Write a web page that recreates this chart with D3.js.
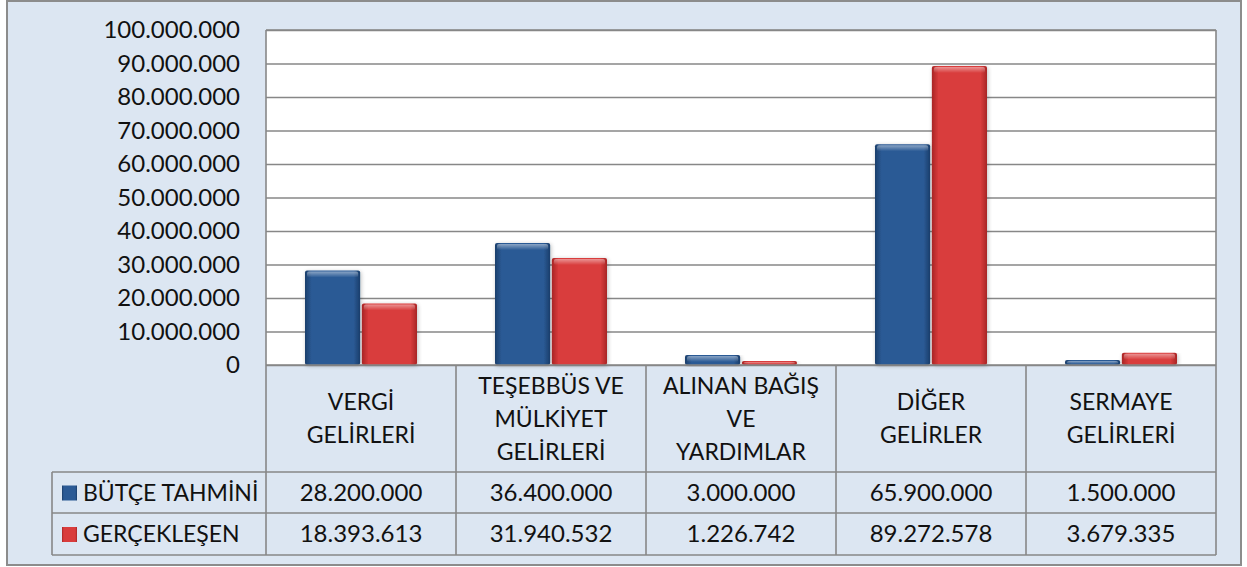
<!DOCTYPE html>
<html>
<head>
<meta charset="utf-8">
<script src="https://cdn.jsdelivr.net/npm/d3@7"></script>
<style>
  body { margin: 0; background: #fff; }
  svg text { font-family: Lato, "Open Sans", sans-serif; fill: #111; }
</style>
</head>
<body>
<div id="chart"></div>
<script>
// categories (each label is split into its lines)
var categories = ["VERGİ GELİRLERİ", "TEŞEBBÜS VE MÜLKİYET GELİRLERİ", "ALINAN BAĞIŞ VE YARDIMLAR", "DİĞER GELİRLER", "SERMAYE GELİRLERİ"];
var categoryLines = [
  ["VERGİ", "GELİRLERİ"],
  ["TEŞEBBÜS VE", "MÜLKİYET", "GELİRLERİ"],
  ["ALINAN BAĞIŞ", "VE", "YARDIMLAR"],
  ["DİĞER", "GELİRLER"],
  ["SERMAYE", "GELİRLERİ"]
];
var seriesNames = ["BÜTÇE TAHMİNİ", "GERÇEKLEŞEN"];
var butceTahmini = [28200000, 36400000, 3000000, 65900000, 1500000];
var gerceklesen = [18393613, 31940532, 1226742, 89272578, 3679335];
var yTicks = [0, 10000000, 20000000, 30000000, 40000000, 50000000, 60000000, 70000000, 80000000, 90000000, 100000000];

var W = 1247, H = 567;
var plot = {left: 266, right: 1216, top: 30, bottom: 365};
var table = {left: 52, header: 472, row1: 513, row2: 555};
var lineColor = "#878787";

var trLocale = d3.formatLocale({decimal: ",", thousands: ".", grouping: [3], currency: ["", ""]});
var fmt = trLocale.format(",");

var svg = d3.select("#chart").append("svg")
  .attr("width", W)
  .attr("height", H);

var defs = svg.append("defs");
function barGradient(id, edge, mid) {
  var g = defs.append("linearGradient").attr("id", id)
    .attr("x1", "0%").attr("x2", "100%").attr("y1", "0%").attr("y2", "0%");
  g.append("stop").attr("offset", "0%").attr("stop-color", edge);
  g.append("stop").attr("offset", "12%").attr("stop-color", mid);
  g.append("stop").attr("offset", "88%").attr("stop-color", mid);
  g.append("stop").attr("offset", "100%").attr("stop-color", edge);
}
barGradient("gBlue", "#1b3e6b", "#2b5a95");
barGradient("gRed", "#a82626", "#d93c3c");
var topShine = defs.append("linearGradient").attr("id", "gTop")
  .attr("x1", "0%").attr("x2", "0%").attr("y1", "0%").attr("y2", "100%");
topShine.append("stop").attr("offset", "0%").attr("stop-color", "#fff").attr("stop-opacity", 0.45);
topShine.append("stop").attr("offset", "100%").attr("stop-color", "#fff").attr("stop-opacity", 0);

var shadow = defs.append("filter").attr("id", "shadow")
  .attr("x", "-20%").attr("y", "-5%").attr("width", "140%").attr("height", "115%");
shadow.append("feGaussianBlur").attr("in", "SourceAlpha").attr("stdDeviation", 2);
shadow.append("feOffset").attr("dx", 1).attr("dy", 1).attr("result", "b");
shadow.append("feComponentTransfer").append("feFuncA").attr("type", "linear").attr("slope", 0.25);
var merge = shadow.append("feMerge");
merge.append("feMergeNode");
merge.append("feMergeNode").attr("in", "SourceGraphic");

// background + outer frame
svg.append("rect")
  .attr("x", 7).attr("y", 1)
  .attr("width", 1234).attr("height", 564)
  .attr("fill", "#dce6f2")
  .attr("stroke", "#8c8c8c")
  .attr("stroke-width", 2);

// plot area
svg.append("rect")
  .attr("x", plot.left).attr("y", plot.top)
  .attr("width", plot.right - plot.left).attr("height", plot.bottom - plot.top)
  .attr("fill", "#fff");

// scales
var x0 = d3.scaleBand().domain(categories).range([plot.left, plot.right]);
var groupW = 112;
var x1 = d3.scaleBand().domain(seriesNames).range([0, groupW]).paddingInner(0.03);
var y = d3.scaleLinear().domain([0, 100000000]).range([plot.bottom, plot.top]);

// gridlines
svg.append("g")
  .attr("transform", "translate(" + plot.left + ",0)")
  .call(d3.axisLeft(y).tickValues(yTicks).tickSize(-(plot.right - plot.left)).tickFormat(""))
  .call(function(g) { g.select(".domain").remove(); })
  .selectAll("line")
  .attr("stroke", lineColor)
  .attr("stroke-width", 1.6);

// y axis labels
svg.append("g")
  .attr("transform", "translate(" + (plot.left - 26) + ",0)")
  .call(d3.axisLeft(y).tickValues(yTicks).tickSize(0).tickPadding(0).tickFormat(fmt))
  .call(function(g) { g.select(".domain").remove(); })
  .selectAll("text")
  .style("font-size", "24px")
  .attr("fill", "#111");

// bars
var rows = categories.map(function(c, i) {
  return [{cat: c, s: seriesNames[0], v: butceTahmini[i]}, {cat: c, s: seriesNames[1], v: gerceklesen[i]}];
});
var groups = svg.selectAll(".grp")
  .data(rows)
  .enter()
  .append("g")
  .attr("class", "grp")
  .attr("transform", function(d) { return "translate(" + (x0(d[0].cat) + (x0.bandwidth() - groupW) / 2) + ",0)"; });

var bar = groups.selectAll(".bar")
  .data(function(d) { return d; })
  .enter()
  .append("g")
  .attr("class", "bar");

bar.append("rect")
  .attr("x", function(d) { return x1(d.s); })
  .attr("y", function(d) { return y(d.v); })
  .attr("width", x1.bandwidth())
  .attr("height", function(d) { return y(0) - y(d.v); })
  .attr("rx", 2)
  .attr("filter", "url(#shadow)")
  .attr("fill", function(d) { return d.s === seriesNames[0] ? "url(#gBlue)" : "url(#gRed)"; });

bar.append("rect")
  .attr("x", function(d) { return x1(d.s) + 2; })
  .attr("y", function(d) { return y(d.v) + 1; })
  .attr("width", x1.bandwidth() - 4)
  .attr("height", function(d) { return Math.min(6, Math.max(0, y(0) - y(d.v) - 2)); })
  .attr("rx", 2)
  .attr("fill", "url(#gTop)");

// table lines
var t = svg.append("g").attr("stroke", lineColor).attr("stroke-width", 1.6);
t.append("line").attr("x1", plot.left).attr("x2", plot.right).attr("y1", plot.top).attr("y2", plot.top);
t.append("line").attr("x1", plot.left).attr("x2", plot.right).attr("y1", plot.bottom).attr("y2", plot.bottom);
[table.header, table.row1, table.row2].forEach(function(yy) {
  t.append("line").attr("x1", table.left).attr("x2", plot.right).attr("y1", yy).attr("y2", yy);
});
t.append("line").attr("x1", table.left).attr("x2", table.left).attr("y1", table.header).attr("y2", table.row2);
t.append("line").attr("x1", plot.left).attr("x2", plot.left).attr("y1", plot.top).attr("y2", table.row2);
t.append("line").attr("x1", plot.right).attr("x2", plot.right).attr("y1", plot.top).attr("y2", table.row2);
categories.slice(1).forEach(function(c) {
  t.append("line").attr("x1", x0(c)).attr("x2", x0(c)).attr("y1", plot.bottom).attr("y2", table.row2);
});

// category labels
var lineH = 33;
var catG = svg.selectAll(".cat")
  .data(categories)
  .enter()
  .append("text")
  .attr("class", "cat")
  .attr("text-anchor", "middle")
  .style("font-size", "23px");
catG.each(function(c, i) {
  var lines = categoryLines[i];
  var midY = (plot.bottom + table.header) / 2;
  var startY = midY - (lines.length - 1) * lineH / 2;
  var sel = d3.select(this);
  lines.forEach(function(l, k) {
    sel.append("tspan")
      .attr("x", x0(c) + x0.bandwidth() / 2)
      .attr("y", startY + k * lineH)
      .attr("dy", "0.35em")
      .text(l);
  });
});

// value rows
var seriesData = [butceTahmini, gerceklesen];
var rowMid = [(table.header + table.row1) / 2, (table.row1 + table.row2) / 2];
seriesData.forEach(function(vals, r) {
  svg.selectAll(".val" + r)
    .data(vals)
    .enter()
    .append("text")
    .attr("x", function(d, i) { return x0(categories[i]) + x0.bandwidth() / 2; })
    .attr("y", rowMid[r])
    .attr("dy", "0.35em")
    .attr("text-anchor", "middle")
    .style("font-size", "24px")
    .text(function(d) { return fmt(d); });

  // legend key
  svg.append("rect")
    .attr("x", 62).attr("y", rowMid[r] - 7)
    .attr("width", 15).attr("height", 15)
    .attr("fill", r === 0 ? "url(#gBlue)" : "url(#gRed)");
  svg.append("text")
    .attr("x", 83).attr("y", rowMid[r])
    .attr("dy", "0.35em")
    .style("font-size", "23px")
    .text(seriesNames[r]);
});
</script>
</body>
</html>
